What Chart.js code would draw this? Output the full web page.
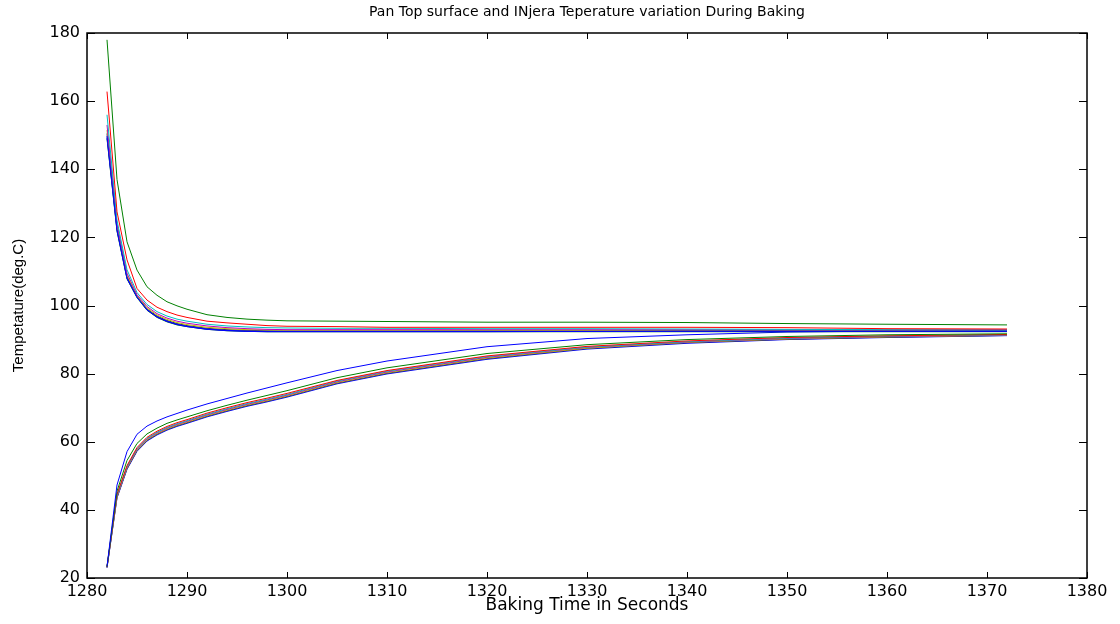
<!DOCTYPE html>
<html>
<head>
<meta charset="utf-8">
<script src="https://cdn.jsdelivr.net/npm/chart.js@4.4.1/dist/chart.umd.min.js"></script>
<style>
  html, body { margin: 0; padding: 0; background: #fff; }
  #wrap { width: 1120px; height: 624px; }
</style>
</head>
<body>
<div id="wrap"><canvas id="temp-chart"></canvas></div>
<script>
// baking time (s)
var seconds = [1282, 1283, 1284, 1285, 1286, 1287, 1288, 1289, 1290, 1292, 1294, 1296, 1298, 1300, 1305, 1310, 1320, 1330, 1340, 1350, 1360, 1372];

// pan top surface nodes
var pan1 = [149.8, 122.3, 108.1, 102.5, 98.8, 96.7, 95.4, 94.5, 93.9, 93.1, 92.7, 92.5, 92.4, 92.4, 92.4, 92.4, 92.4, 92.4, 92.5, 92.5, 92.5, 92.5];
var pan2 = [178.0, 137.0, 118.7, 110.4, 105.5, 103.0, 101.1, 99.9, 98.9, 97.3, 96.5, 96.0, 95.7, 95.5, 95.4, 95.3, 95.1, 95.1, 95.0, 94.7, 94.5, 94.3];
var pan3 = [162.8, 127.5, 113.4, 105.0, 101.6, 99.5, 98.2, 97.2, 96.5, 95.4, 94.9, 94.5, 94.1, 93.9, 93.8, 93.6, 93.6, 93.6, 93.6, 93.5, 93.2, 93.1];
var pan4 = [156.0, 125.0, 110.5, 103.8, 100.3, 98.2, 96.9, 96.0, 95.4, 94.5, 94.0, 93.7, 93.5, 93.4, 93.3, 93.3, 93.2, 93.2, 93.1, 93.0, 92.9, 92.8];
var pan5 = [153.0, 124.0, 109.5, 103.2, 99.7, 97.6, 96.3, 95.4, 94.8, 94.0, 93.5, 93.2, 93.0, 92.9, 92.9, 92.9, 92.9, 92.9, 92.9, 92.9, 92.9, 92.9];
var pan6 = [151.5, 123.3, 108.9, 102.9, 99.3, 97.2, 95.9, 95.0, 94.4, 93.6, 93.2, 92.9, 92.8, 92.7, 92.7, 92.7, 92.7, 92.7, 92.7, 92.7, 92.7, 92.7];
var pan7 = [150.5, 122.8, 108.5, 102.7, 99.0, 96.9, 95.6, 94.7, 94.1, 93.3, 92.9, 92.7, 92.6, 92.5, 92.5, 92.5, 92.6, 92.6, 92.6, 92.6, 92.6, 92.6];
var pan8 = [149.3, 122.0, 107.9, 102.4, 98.7, 96.6, 95.3, 94.4, 93.8, 93.0, 92.6, 92.4, 92.3, 92.3, 92.3, 92.3, 92.3, 92.4, 92.4, 92.4, 92.4, 92.4];
var pan9 = [149.0, 121.8, 107.8, 102.3, 98.6, 96.5, 95.2, 94.3, 93.8, 93.0, 92.6, 92.4, 92.3, 92.3, 92.3, 92.3, 92.3, 92.3, 92.3, 92.3, 92.3, 92.3];

// injera nodes
var injera1 = [23.4, 47.3, 57.1, 62.2, 64.6, 66.1, 67.3, 68.3, 69.3, 71.1, 72.7, 74.3, 75.8, 77.3, 80.9, 83.7, 87.9, 90.3, 91.4, 92.2, 92.5, 92.6];
var injera2 = [23.3, 45.5, 54.5, 59.5, 62.3, 64.0, 65.4, 66.4, 67.3, 69.1, 70.7, 72.2, 73.6, 75.0, 78.8, 81.7, 85.9, 88.5, 90.0, 90.9, 91.4, 91.7];
var injera3 = [23.3, 44.6, 53.0, 58.3, 61.3, 63.1, 64.5, 65.6, 66.5, 68.4, 70.0, 71.5, 72.8, 74.2, 78.0, 80.9, 85.2, 88.0, 89.6, 90.6, 91.1, 91.5];
var injera4 = [23.3, 44.3, 52.7, 58.0, 61.0, 62.8, 64.2, 65.3, 66.2, 68.1, 69.7, 71.2, 72.5, 73.9, 77.8, 80.7, 85.0, 87.8, 89.4, 90.4, 91.0, 91.4];
var injera5 = [23.2, 44.1, 52.5, 57.8, 60.8, 62.6, 64.0, 65.1, 66.0, 67.9, 69.5, 71.0, 72.3, 73.7, 77.6, 80.5, 84.8, 87.7, 89.3, 90.3, 90.9, 91.3];
var injera6 = [23.2, 43.9, 52.3, 57.6, 60.6, 62.4, 63.8, 64.9, 65.8, 67.7, 69.3, 70.8, 72.1, 73.5, 77.4, 80.3, 84.6, 87.5, 89.2, 90.2, 90.8, 91.3];
var injera7 = [23.1, 43.7, 52.1, 57.4, 60.4, 62.2, 63.6, 64.7, 65.6, 67.5, 69.1, 70.6, 71.9, 73.3, 77.2, 80.1, 84.4, 87.4, 89.1, 90.1, 90.7, 91.2];
var injera8 = [23.0, 43.5, 51.9, 57.2, 60.2, 62.0, 63.4, 64.5, 65.4, 67.3, 68.9, 70.4, 71.7, 73.1, 77.0, 79.9, 84.2, 87.2, 88.9, 90.0, 90.6, 91.15];

var panSeries = [pan1, pan2, pan3, pan4, pan5, pan6, pan7, pan8, pan9];
var injeraSeries = [injera1, injera2, injera3, injera4, injera5, injera6, injera7, injera8];

// old matlab colour order b g r c m y k
var lineColors = ['#0000FF', '#008000', '#FF0000', '#00BFBF', '#BF00BF', '#BFBF00', '#404040'];

var xTicks = [1280, 1290, 1300, 1310, 1320, 1330, 1340, 1350, 1360, 1370, 1380];
var yTicks = [20, 40, 60, 80, 100, 120, 140, 160, 180];

function toDataset(values, i) {
	return {
		data: values.map(function (v, k) { return {x: seconds[k], y: v}; }),
		borderColor: lineColors[i % lineColors.length],
		borderWidth: 1,
		pointRadius: 0,
		fill: false,
		tension: 0
	};
}

var datasets = panSeries.map(toDataset).concat(injeraSeries.map(toDataset));

// box round the axes with inward ticks, like matlab
var boxTicks = {
	id: 'boxTicks',
	afterDraw: function (chart) {
		var ctx = chart.ctx, a = chart.chartArea;
		var x = chart.scales.x, y = chart.scales.y;
		ctx.save();
		ctx.strokeStyle = '#000';
		ctx.lineWidth = 1;
		ctx.beginPath();
		xTicks.forEach(function (t) {
			var px = Math.round(x.getPixelForValue(t)) + 0.5;
			ctx.moveTo(px, a.bottom); ctx.lineTo(px, a.bottom - 6);
			ctx.moveTo(px, a.top); ctx.lineTo(px, a.top + 6);
		});
		yTicks.forEach(function (t) {
			var py = Math.round(y.getPixelForValue(t)) + 0.5;
			ctx.moveTo(a.left, py); ctx.lineTo(a.left + 8, py);
			ctx.moveTo(a.right, py); ctx.lineTo(a.right - 8, py);
		});
		ctx.stroke();
		ctx.lineWidth = 1.5;
		ctx.strokeRect(a.left, a.top, a.right - a.left, a.bottom - a.top);
		ctx.restore();
	}
};

var labelFont = {family: 'DejaVu Sans', size: 16};
var plain = function (v) { return String(v); };

new Chart('temp-chart', {
	type: 'line',
	data: {datasets: datasets},
	options: {
		responsive: true,
		maintainAspectRatio: false,
		animation: false,
		layout: {padding: {left: 0, right: 33, top: 0, bottom: 0}},
		plugins: {
			legend: {display: false},
			tooltip: {enabled: false}
		},
		scales: {
			// top axis only carries the title, so it centres over the plot box
			top: {
				type: 'linear',
				position: 'top',
				min: 1280,
				max: 1380,
				afterFit: function (s) { s.height = 33; },
				grid: {display: false, drawTicks: false},
				border: {display: false},
				ticks: {display: false},
				title: {
					display: true,
					text: 'Pan Top surface and INjera Teperature variation During Baking',
					color: '#000',
					font: {family: 'DejaVu Sans', size: 14},
					padding: {top: 4, bottom: 0}
				}
			},
			x: {
				type: 'linear',
				min: 1280,
				max: 1380,
				afterFit: function (s) { s.height = 46; },
				afterBuildTicks: function (s) { s.ticks = xTicks.map(function (v) { return {value: v}; }); },
				grid: {display: false, drawTicks: false},
				border: {display: false},
				ticks: {color: '#000', font: labelFont, padding: 4, maxRotation: 0, autoSkip: false, callback: plain},
				title: {display: true, text: 'Baking Time in Seconds', color: '#000', font: {family: 'DejaVu Sans', size: 17}, padding: {top: 0, bottom: 8}}
			},
			y: {
				min: 20,
				max: 180,
				afterFit: function (s) { s.width = 87; },
				afterBuildTicks: function (s) { s.ticks = yTicks.map(function (v) { return {value: v}; }); },
				grid: {display: false, drawTicks: false},
				border: {display: false},
				ticks: {color: '#000', font: labelFont, padding: 7, callback: plain},
				title: {display: true, text: 'Tempetature(deg.C)', color: '#000', font: {family: 'Liberation Sans', size: 15}, padding: {top: 10, bottom: 0}}
			}
		}
	},
	plugins: [boxTicks]
});
</script>
</body>
</html>
